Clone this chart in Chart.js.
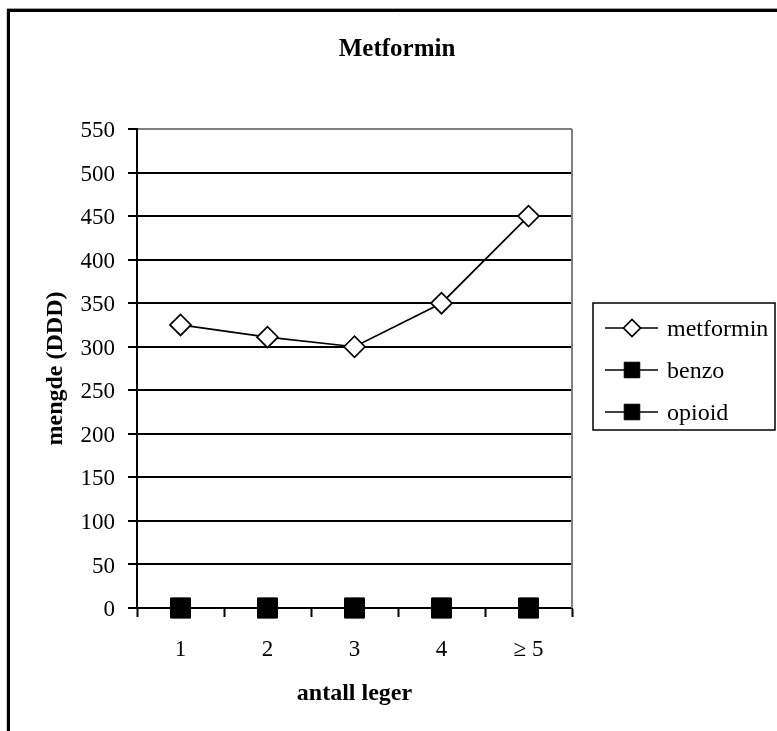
<!DOCTYPE html>
<html>
<head>
<meta charset="utf-8">
<script src="https://cdn.jsdelivr.net/npm/chart.js@4/dist/chart.umd.min.js"></script>
<style>
html,body{margin:0;padding:0;background:#fff;}
#wrap{width:777px;height:731px;}
</style>
</head>
<body>
<div id="wrap"><canvas id="c" width="777" height="731"></canvas></div>
<script>
// ---- data ----
const chartTitle = 'Metformin';
const xTitle = 'antall leger';
const yTitle = 'mengde (DDD)';
const categories = ['1', '2', '3', '4', '\u2265 5'];
const metformin = [325, 311, 300, 350, 450];
const benzo = [0, 0, 0, 0, 0];
const opioid = [0, 0, 0, 0, 0];
const yMin = 0, yMax = 550, yStep = 50;

const SERIF = '"Liberation Serif", "Times New Roman", serif';

const framePlugin = {
  id: 'frame',
  beforeDraw(chart) {
    const ctx = chart.ctx;
    ctx.save();
    ctx.fillStyle = '#fff';
    ctx.fillRect(0, 0, chart.width, chart.height);
    ctx.strokeStyle = '#a0a0a0';
    ctx.lineWidth = 1;
    ctx.beginPath();
    ctx.moveTo(7, 800); ctx.lineTo(7, 8.5); ctx.lineTo(800, 8.5);
    ctx.stroke();
    ctx.strokeStyle = '#000';
    ctx.lineWidth = 3;
    ctx.beginPath();
    ctx.moveTo(8.5, 800); ctx.lineTo(8.5, 10.5); ctx.lineTo(800, 10.5);
    ctx.stroke();
    ctx.restore();
  },
  beforeDatasetsDraw(chart) {
    const ctx = chart.ctx, a = chart.chartArea;
    ctx.save();
    ctx.strokeStyle = '#808080';
    ctx.lineWidth = 2;
    ctx.beginPath();
    ctx.moveTo(a.right, a.top);
    ctx.lineTo(a.right, a.bottom);
    ctx.stroke();
    ctx.restore();
  },
  afterDraw(chart) {
    const ctx = chart.ctx;
    ctx.save();
    // title
    ctx.fillStyle = '#000';
    ctx.font = 'bold 25px ' + SERIF;
    ctx.textAlign = 'center';
    ctx.textBaseline = 'alphabetic';
    ctx.fillText(chartTitle, 397, 56);
    // legend
    const bx = 593, by = 303, bw = 182, bh = 127;
    ctx.strokeStyle = '#000';
    ctx.lineWidth = 1.5;
    ctx.strokeRect(bx, by, bw, bh);
    const rows = [328, 370, 412];
    chart.data.datasets.forEach((ds, i) => {
      const y = rows[i];
      ctx.strokeStyle = ds.borderColor;
      ctx.lineWidth = 1.5;
      ctx.beginPath();
      ctx.moveTo(605, y); ctx.lineTo(658, y);
      ctx.stroke();
      ctx.fillStyle = ds.pointBackgroundColor;
      ctx.strokeStyle = ds.pointBorderColor;
      ctx.lineWidth = ds.pointBorderWidth;
      Chart.helpers.drawPoint(ctx, {
        pointStyle: ds.pointStyle,
        radius: ds.pointStyle === 'rectRot' ? 8.5 : 11,
        rotation: 0,
        borderWidth: ds.pointBorderWidth
      }, 632, y);
      ctx.fillStyle = '#000';
      ctx.font = '24px ' + SERIF;
      ctx.textAlign = 'left';
      ctx.textBaseline = 'alphabetic';
      ctx.fillText(ds.label, 667, y + 8);
    });
    ctx.restore();
  }
};

new Chart(document.getElementById('c'), {
  type: 'line',
  data: {
    labels: categories,
    datasets: [
      {
        label: 'metformin', data: metformin,
        borderColor: '#000', borderWidth: 1.7,
        pointStyle: 'rectRot', pointRadius: 10.5,
        pointBackgroundColor: '#fff', pointBorderColor: '#000', pointBorderWidth: 1.7,
        clip: false
      },
      {
        label: 'benzo', data: benzo,
        borderColor: '#000', borderWidth: 1.7,
        pointStyle: 'rect', pointRadius: 14,
        pointBackgroundColor: '#000', pointBorderColor: '#000', pointBorderWidth: 1,
        clip: false
      },
      {
        label: 'opioid', data: opioid,
        borderColor: '#000', borderWidth: 1.7,
        pointStyle: 'rect', pointRadius: 14,
        pointBackgroundColor: '#000', pointBorderColor: '#000', pointBorderWidth: 1,
        clip: false
      }
    ]
  },
  options: {
    responsive: false,
    animation: false,
    events: [],
    layout: { padding: { left: 0, top: 129, right: 205, bottom: 0 } },
    plugins: {
      legend: { display: false },
      title: { display: false },
      tooltip: { enabled: false }
    },
    scales: {
      x: {
        type: 'category',
        offset: true,
        afterFit(s) { s.height = 123; },
        grid: { offset: true, drawOnChartArea: false, drawTicks: true, tickLength: 9, tickColor: '#000', tickWidth: 2, color: '#000' },
        border: { display: true, color: '#000', width: 2 },
        ticks: { color: '#000', font: { family: SERIF, size: 23 }, padding: 19, maxRotation: 0, autoSkip: false },
        title: { display: true, text: xTitle, color: '#000', font: { family: SERIF, size: 24, weight: 'bold' }, padding: { top: 0, bottom: 23 } }
      },
      y: {
        min: yMin, max: yMax,
        afterFit(s) { s.width = 137; },
        grid: {
          color: (c) => (c.tick && c.tick.value === yMax) ? '#808080' : '#000',
          lineWidth: 2, drawTicks: true, tickLength: 9, tickColor: '#000', tickWidth: 2
        },
        border: { display: true, color: '#000', width: 2 },
        ticks: { stepSize: yStep, color: '#000', font: { family: SERIF, size: 23 }, padding: 13, labelOffset: 2 },
        title: { display: true, text: yTitle, color: '#000', font: { family: SERIF, size: 24, weight: 'bold' }, padding: { top: 41, bottom: 0 } }
      }
    }
  },
  plugins: [framePlugin]
});
</script>
</body>
</html>
